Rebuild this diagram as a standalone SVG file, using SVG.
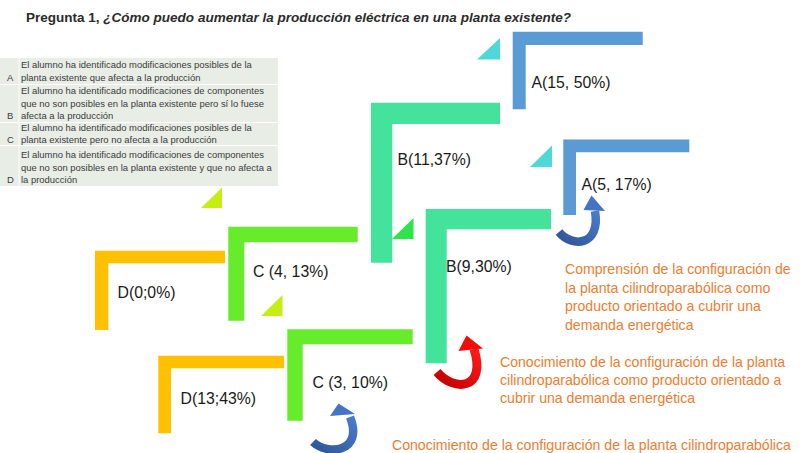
<svg xmlns="http://www.w3.org/2000/svg" width="803" height="453" viewBox="0 0 803 453">
<defs>
<style>
.lbl{font-family:"Liberation Sans",Arial,sans-serif;font-size:15.8px;fill:#1a1a1a}
.leg{font-family:"Liberation Sans",Arial,sans-serif;font-size:9.45px;fill:#3a3a3a}
.note{font-family:"Liberation Sans",Arial,sans-serif;font-size:14.1px;fill:#ED7D31}
.blue{fill:#5B9BD5}.teal{fill:#43E39B}.lime{fill:#66EC2B}.gold{fill:#FFC000}
.cyan{fill:#4FD8DA}.grn{fill:#2FE44A}.ylw{fill:#C5EE14}
.row{fill:#E8EDE6}
</style>
<linearGradient id="gBlue" x1="0" y1="1" x2="1" y2="0"><stop offset="0" stop-color="#2F5597"/><stop offset="1" stop-color="#4A7CCB"/></linearGradient>
<linearGradient id="gRed" x1="0" y1="1" x2="1" y2="0"><stop offset="0" stop-color="#C00000"/><stop offset="1" stop-color="#FF1A1A"/></linearGradient>
</defs>
<rect width="803" height="453" fill="#ffffff"/>
<text x="26" y="21.5" font-family="'Liberation Sans',Arial,sans-serif" font-size="13.4" font-weight="bold" fill="#2b2b2b" textLength="545" lengthAdjust="spacingAndGlyphs">Pregunta 1, <tspan font-style="italic">¿Cómo puedo aumentar la producción eléctrica en una planta existente?</tspan></text>

<g id="legend">
<rect class="row" x="0" y="58" width="278" height="26"/>
<rect class="row" x="0" y="85" width="278" height="37"/>
<rect class="row" x="0" y="123" width="278" height="22"/>
<rect class="row" x="0" y="146" width="278" height="40"/>
<line x1="19" y1="58" x2="19" y2="186" stroke="#ffffff" stroke-width="0.8"/>
<text class="leg" x="7" y="80.5">A</text>
<text class="leg" x="21" y="67.5">El alumno ha identificado modificaciones posibles de la</text>
<text class="leg" x="21" y="80.5">planta existente que afecta a la producción</text>
<text class="leg" x="7" y="119">B</text>
<text class="leg" x="21" y="94">El alumno ha identificado modificaciones de componentes</text>
<text class="leg" x="21" y="106.5">que no son posibles en la planta existente pero sí lo fuese</text>
<text class="leg" x="21" y="119">afecta a la producción</text>
<text class="leg" x="7" y="143">C</text>
<text class="leg" x="21" y="131">El alumno ha identificado modificaciones posibles de la</text>
<text class="leg" x="21" y="143">planta existente pero no afecta a la producción</text>
<text class="leg" x="7" y="183">D</text>
<text class="leg" x="21" y="158">El alumno ha identificado modificaciones de componentes</text>
<text class="leg" x="21" y="170.5">que no son posibles en la planta existente y que no afecta a</text>
<text class="leg" x="21" y="183">la producción</text>
</g>

<g id="tri1"><polygon class="cyan" points="477,59.5 500,38 500,59.5"/></g>
<g id="tri2"><polygon class="cyan" points="530,167 552,145.5 552,167"/></g>
<g id="tri3"><polygon class="grn" points="392,239 413.5,218 413.5,239"/></g>
<g id="tri4"><polygon class="ylw" points="201,208 222,187.5 222,208"/></g>
<g id="tri5"><polygon class="ylw" points="261,316 282.5,295 282.5,316"/></g>

<g id="nodeA15">
<path class="blue" d="M512.7,31.7H642.7V45H525.7V109.3H512.7Z"/>
<text class="lbl" x="531.5" y="88.3">A(15, 50%)</text>
</g>
<g id="nodeB11">
<path class="teal" d="M371,102.7H500V124H392.3V262.7H371Z"/>
<text class="lbl" x="397.5" y="165">B(11,37%)</text>
</g>
<g id="nodeA5">
<path class="blue" d="M563.3,139.5H689.3V152.3H576V215H563.3Z"/>
<text class="lbl" x="581.5" y="190">A(5, 17%)</text>
</g>
<g id="nodeB9">
<path class="teal" d="M425.7,209H551V229.3H446.7V363.3H425.7Z"/>
<text class="lbl" x="446" y="271.5">B(9,30%)</text>
</g>
<g id="nodeD0">
<path class="gold" d="M95,250.7H225V263.3H108.3V330H95Z"/>
<text class="lbl" x="117.5" y="298">D(0;0%)</text>
</g>
<g id="nodeC4">
<path class="lime" d="M228.3,226.7H357.7V242.3H244.3V320.7H228.3Z"/>
<text class="lbl" x="253" y="276.5">C (4, 13%)</text>
</g>
<g id="nodeC3">
<path class="lime" d="M287.3,329.3H412.7V344.3H302.7V420.7H287.3Z"/>
<text class="lbl" x="312.5" y="388.3">C (3, 10%)</text>
</g>
<g id="nodeD13">
<path class="gold" d="M158.3,355.7H284V368.3H171V433.3H158.3Z"/>
<text class="lbl" x="180.5" y="404.3">D(13;43%)</text>
</g>

<g id="connectors">
<path d="M559,232 C572,248 601,246 595,211" fill="none" stroke="url(#gBlue)" stroke-width="8.5"/>
<polygon points="591.5,195.5 583.5,210 605,211" fill="#4674C4"/>
<path d="M437,372 C454,392 487,390 474,349" fill="none" stroke="url(#gRed)" stroke-width="9"/>
<polygon points="466.5,335.5 458.5,351 483,348.5" fill="#F20D0D"/>
<path d="M313,442 C328,456 364,452 350,417" fill="none" stroke="url(#gBlue)" stroke-width="8.5"/>
<polygon points="338.5,403.5 330,416 355,414" fill="#4674C4"/>
</g>

<g id="note1">
<text class="note" x="565" y="274">Comprensión de la configuración de</text>
<text class="note" x="565" y="292.5">la planta cilindroparabólica como</text>
<text class="note" x="565" y="311">producto orientado a cubrir una</text>
<text class="note" x="565" y="329.5">demanda energética</text>
</g>
<g id="note2">
<text class="note" x="500" y="366.7">Conocimiento de la configuración de la planta</text>
<text class="note" x="500" y="384.5">cilindroparabólica como producto orientado a</text>
<text class="note" x="500" y="402.7">cubrir una demanda energética</text>
</g>
<g id="note3">
<text class="note" x="392" y="450">Conocimiento de la configuración de la planta cilindroparabólica</text>
</g>
</svg>
